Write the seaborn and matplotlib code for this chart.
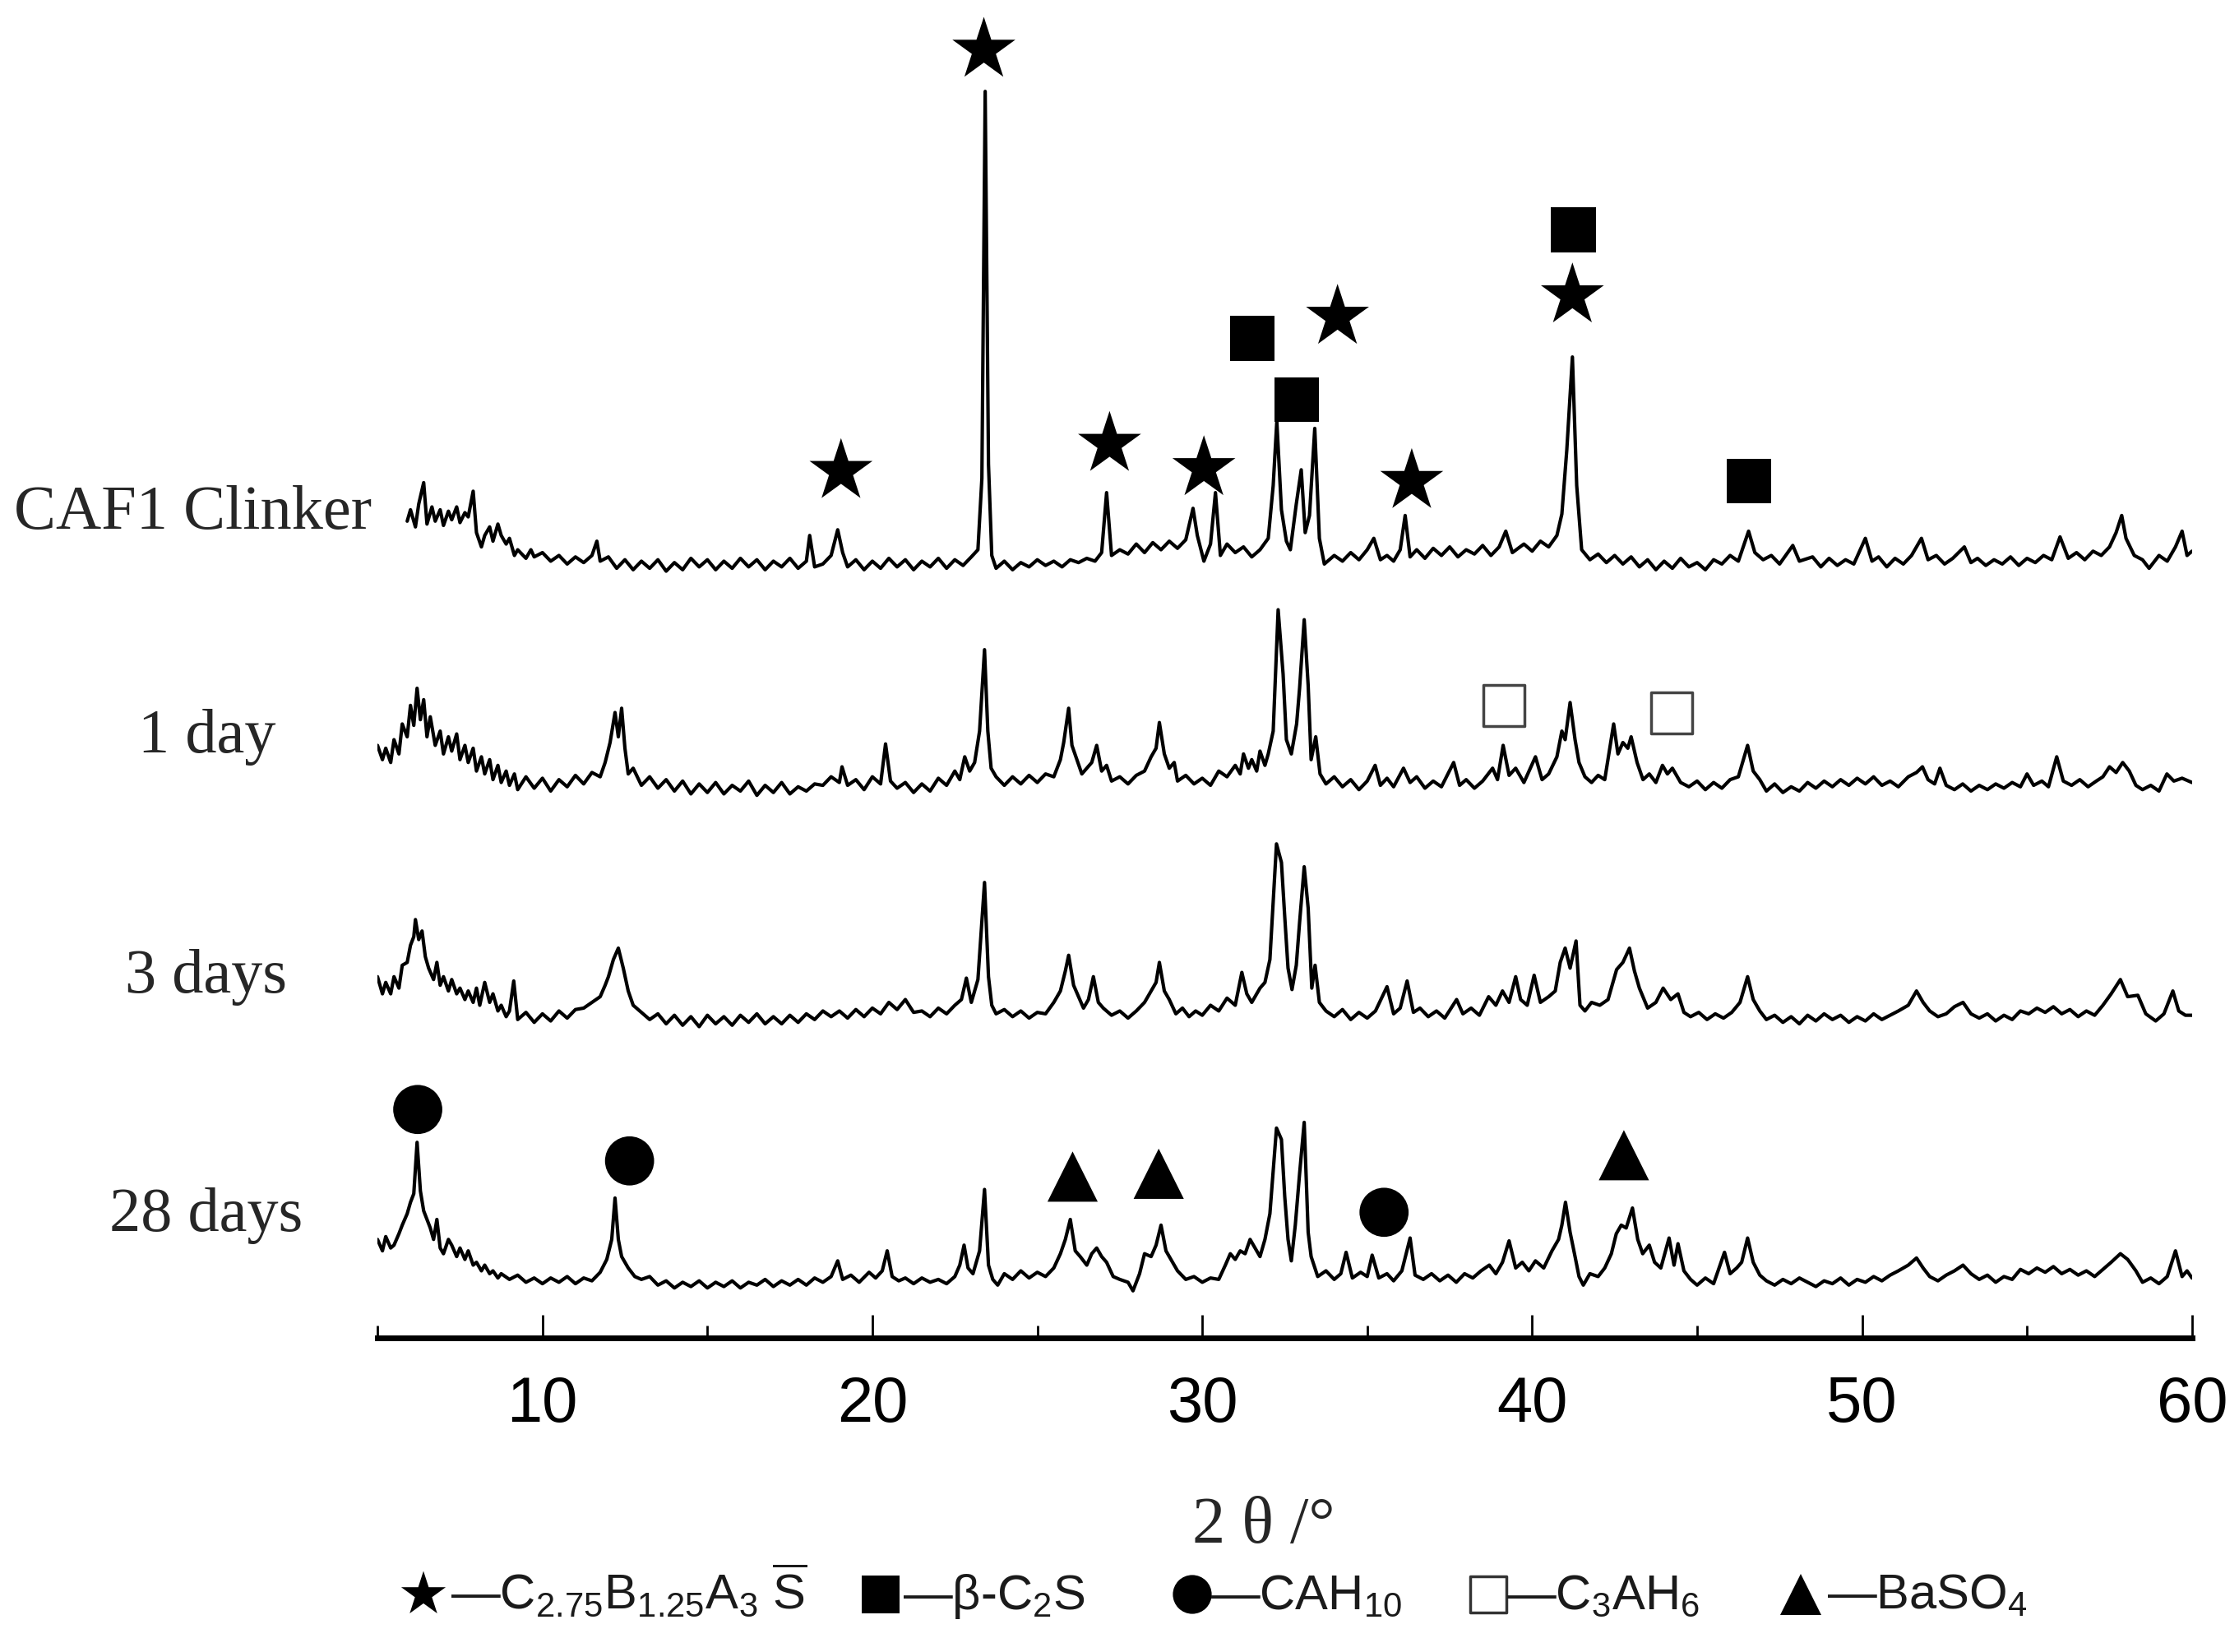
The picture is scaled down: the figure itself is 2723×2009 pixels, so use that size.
import numpy as np
import pandas as pd
import matplotlib
matplotlib.use("Agg")
import matplotlib.pyplot as plt
import seaborn as sns
from matplotlib.ticker import MultipleLocator

# XRD patterns: (2theta, height above the trace's own baseline)
clinker_pts = [
    (5.9, 30), (6.0, 38), (6.15, 26), (6.25, 42), (6.4, 57), (6.5, 28), (6.65, 40), (6.75, 30),
    (6.9, 38), (7.0, 27), (7.15, 37), (7.25, 31), (7.4, 40), (7.5, 29), (7.65, 36), (7.75, 33),
    (7.9, 51), (8.0, 22), (8.15, 12), (8.25, 20), (8.4, 26), (8.5, 16), (8.65, 28), (8.75, 20),
    (8.9, 14), (9.0, 18), (9.15, 6), (9.25, 10), (9.5, 4), (9.65, 10), (9.75, 5), (10.0, 8),
    (10.25, 2), (10.5, 6), (10.75, 0), (11.0, 5), (11.25, 1), (11.5, 6), (11.65, 16), (11.75, 2),
    (12.0, 5), (12.25, -3), (12.5, 3), (12.75, -4), (13.0, 2), (13.25, -3), (13.5, 3), (13.75, -5),
    (14.0, 1), (14.25, -4), (14.5, 4), (14.75, -2), (15.0, 3), (15.25, -4), (15.5, 2), (15.75, -3),
    (16.0, 4), (16.25, -2), (16.5, 3), (16.75, -4), (17.0, 2), (17.25, -2), (17.5, 4), (17.75, -3),
    (18.0, 2), (18.1, 20), (18.25, -2), (18.5, 0), (18.75, 6), (18.95, 24), (19.1, 8), (19.25, -2),
    (19.5, 3), (19.75, -4), (20.0, 2), (20.25, -3), (20.5, 4), (20.75, -2), (21.0, 3), (21.25, -4),
    (21.5, 2), (21.75, -2), (22.0, 4), (22.25, -3), (22.5, 3), (22.75, -1), (23.0, 5), (23.2, 10),
    (23.32, 60), (23.42, 331), (23.52, 70), (23.62, 6), (23.75, -3), (24.0, 2), (24.25, -4), (24.5, 1),
    (24.75, -2), (25.0, 3), (25.25, -1), (25.5, 2), (25.75, -2), (26.0, 3), (26.25, 1), (26.5, 4),
    (26.75, 2), (26.95, 8), (27.1, 50), (27.25, 6), (27.5, 10), (27.75, 7), (28.0, 14), (28.25, 8),
    (28.5, 15), (28.75, 10), (29.0, 16), (29.25, 11), (29.5, 17), (29.72, 39), (29.85, 20), (30.05, 2),
    (30.25, 14), (30.4, 50), (30.55, 6), (30.75, 14), (31.0, 8), (31.25, 12), (31.5, 5), (31.75, 10),
    (32.0, 18), (32.15, 55), (32.26, 100), (32.4, 38), (32.55, 16), (32.67, 10), (32.85, 42), (33.0, 66),
    (33.12, 22), (33.25, 34), (33.41, 95), (33.55, 18), (33.7, 0), (34.0, 6), (34.25, 2), (34.5, 8),
    (34.75, 3), (35.0, 10), (35.2, 18), (35.4, 3), (35.6, 6), (35.8, 2), (36.0, 10), (36.15, 34),
    (36.3, 5), (36.5, 10), (36.75, 4), (37.0, 11), (37.25, 6), (37.5, 12), (37.75, 5), (38.0, 10),
    (38.25, 7), (38.5, 13), (38.75, 6), (39.0, 12), (39.2, 23), (39.4, 8), (39.75, 14), (40.0, 9),
    (40.25, 16), (40.5, 12), (40.75, 20), (40.9, 35), (41.05, 80), (41.22, 145), (41.35, 55), (41.5, 10),
    (41.75, 3), (42.0, 7), (42.25, 1), (42.5, 6), (42.75, 0), (43.0, 5), (43.25, -2), (43.5, 3),
    (43.75, -4), (44.0, 2), (44.25, -3), (44.5, 4), (44.75, -2), (45.0, 1), (45.25, -4), (45.5, 3),
    (45.75, 0), (46.0, 6), (46.25, 2), (46.56, 23), (46.75, 8), (47.0, 3), (47.25, 6), (47.5, 0),
    (47.9, 13), (48.1, 2), (48.5, 5), (48.75, -2), (49.0, 4), (49.25, -1), (49.5, 3), (49.75, 0),
    (50.1, 18), (50.3, 2), (50.5, 5), (50.75, -2), (51.0, 4), (51.25, 0), (51.5, 6), (51.8, 18),
    (52.0, 3), (52.25, 6), (52.5, 0), (52.75, 4), (53.1, 12), (53.3, 1), (53.5, 4), (53.75, -1),
    (54.0, 3), (54.25, 0), (54.5, 5), (54.75, -1), (55.0, 4), (55.25, 1), (55.5, 6), (55.75, 3),
    (56.0, 19), (56.25, 4), (56.5, 8), (56.75, 3), (57.0, 9), (57.25, 6), (57.5, 12), (57.7, 22),
    (57.87, 34), (58.0, 18), (58.25, 6), (58.5, 3), (58.7, -3), (59.0, 6), (59.25, 2), (59.5, 12),
    (59.7, 23), (59.85, 6), (60.0, 9),
]

day1_pts = [
    (5.0, 30), (5.15, 20), (5.25, 28), (5.4, 18), (5.5, 34), (5.65, 24), (5.75, 45), (5.9, 36),
    (6.0, 58), (6.1, 44), (6.2, 70), (6.3, 48), (6.4, 62), (6.5, 36), (6.6, 50), (6.75, 30),
    (6.9, 40), (7.0, 24), (7.15, 36), (7.25, 26), (7.4, 38), (7.5, 20), (7.65, 30), (7.75, 18),
    (7.9, 28), (8.0, 12), (8.15, 22), (8.25, 10), (8.4, 20), (8.5, 6), (8.65, 16), (8.75, 4),
    (8.9, 12), (9.0, 2), (9.15, 10), (9.25, -1), (9.5, 8), (9.75, 0), (10.0, 7), (10.25, -2),
    (10.5, 6), (10.75, 1), (11.0, 9), (11.25, 3), (11.5, 11), (11.75, 8), (11.9, 18), (12.05, 32),
    (12.2, 53), (12.3, 36), (12.4, 56), (12.5, 28), (12.6, 10), (12.75, 14), (13.0, 2), (13.25, 8),
    (13.5, 0), (13.75, 6), (14.0, -2), (14.25, 5), (14.5, -4), (14.75, 3), (15.0, -3), (15.25, 4),
    (15.5, -4), (15.75, 2), (16.0, -2), (16.25, 5), (16.5, -5), (16.75, 2), (17.0, -3), (17.25, 4),
    (17.5, -4), (17.75, 1), (18.0, -2), (18.25, 3), (18.5, 2), (18.75, 8), (19.0, 4), (19.08, 15),
    (19.25, 2), (19.5, 6), (19.75, -1), (20.0, 8), (20.25, 3), (20.4, 31), (20.55, 5), (20.75, 0),
    (21.0, 4), (21.25, -3), (21.5, 3), (21.75, -2), (22.0, 7), (22.25, 2), (22.5, 12), (22.65, 6),
    (22.8, 22), (22.95, 12), (23.1, 18), (23.25, 40), (23.4, 97), (23.5, 40), (23.6, 14), (23.75, 8),
    (24.0, 2), (24.25, 8), (24.5, 3), (24.75, 9), (25.0, 4), (25.25, 10), (25.5, 8), (25.7, 20),
    (25.8, 32), (25.95, 56), (26.05, 30), (26.2, 20), (26.35, 10), (26.5, 14), (26.65, 18), (26.8, 30),
    (26.95, 12), (27.1, 16), (27.25, 5), (27.5, 8), (27.75, 3), (28.0, 9), (28.25, 12), (28.45, 22),
    (28.6, 28), (28.7, 46), (28.85, 24), (29.0, 14), (29.15, 18), (29.25, 5), (29.5, 9), (29.75, 3),
    (30.0, 7), (30.25, 2), (30.5, 12), (30.75, 8), (31.0, 16), (31.15, 10), (31.25, 24), (31.4, 14),
    (31.5, 20), (31.65, 12), (31.75, 26), (31.9, 16), (32.0, 24), (32.15, 40), (32.3, 125), (32.45, 80),
    (32.55, 34), (32.7, 24), (32.86, 45), (32.95, 70), (33.09, 118), (33.21, 72), (33.3, 20), (33.44, 36),
    (33.57, 10), (33.75, 3), (34.0, 8), (34.25, 1), (34.5, 6), (34.75, -1), (35.0, 5), (35.24, 16),
    (35.4, 2), (35.6, 7), (35.8, 1), (36.1, 14), (36.3, 4), (36.5, 8), (36.75, 0), (37.0, 5),
    (37.25, 1), (37.62, 18), (37.8, 2), (38.0, 6), (38.25, 0), (38.5, 5), (38.8, 14), (38.95, 6),
    (39.12, 30), (39.3, 9), (39.5, 14), (39.75, 4), (40.1, 22), (40.3, 6), (40.5, 10), (40.75, 22),
    (40.9, 40), (41.0, 34), (41.15, 60), (41.3, 34), (41.42, 18), (41.6, 8), (41.8, 4), (42.0, 9),
    (42.2, 6), (42.47, 45), (42.6, 24), (42.75, 32), (42.9, 28), (43.0, 36), (43.18, 18), (43.36, 6),
    (43.55, 10), (43.75, 4), (43.95, 16), (44.1, 10), (44.25, 14), (44.5, 4), (44.75, 1), (45.0, 5),
    (45.25, -1), (45.5, 4), (45.75, 0), (46.0, 6), (46.25, 8), (46.53, 30), (46.7, 12), (46.9, 6),
    (47.1, -2), (47.35, 3), (47.6, -3), (47.85, 1), (48.1, -2), (48.35, 4), (48.6, 0), (48.85, 5),
    (49.1, 1), (49.35, 6), (49.6, 2), (49.85, 7), (50.1, 3), (50.35, 8), (50.6, 2), (50.85, 5),
    (51.1, 1), (51.4, 8), (51.65, 11), (51.83, 15), (52.0, 6), (52.2, 3), (52.36, 14), (52.55, 2),
    (52.8, -1), (53.05, 3), (53.3, -2), (53.55, 2), (53.8, -1), (54.05, 3), (54.3, 0), (54.55, 4),
    (54.8, 1), (55.0, 10), (55.2, 2), (55.45, 5), (55.65, 1), (55.9, 22), (56.1, 5), (56.35, 2),
    (56.6, 6), (56.85, 1), (57.1, 5), (57.3, 8), (57.5, 15), (57.7, 11), (57.9, 18), (58.1, 12),
    (58.3, 2), (58.5, -1), (58.75, 2), (59.0, -2), (59.24, 10), (59.45, 5), (59.7, 7), (60.0, 4),
]

day3_pts = [
    (5.0, 30), (5.15, 18), (5.25, 26), (5.4, 18), (5.5, 30), (5.65, 22), (5.75, 38), (5.9, 40),
    (6.0, 52), (6.1, 58), (6.15, 70), (6.25, 56), (6.35, 62), (6.45, 44), (6.55, 36), (6.7, 28),
    (6.8, 40), (6.9, 24), (7.0, 30), (7.15, 20), (7.25, 28), (7.4, 18), (7.5, 22), (7.65, 14),
    (7.75, 20), (7.9, 12), (8.0, 22), (8.1, 10), (8.25, 26), (8.4, 12), (8.5, 18), (8.65, 6),
    (8.75, 10), (8.9, 2), (9.0, 6), (9.13, 27), (9.25, 0), (9.5, 5), (9.75, -2), (10.0, 4),
    (10.25, -1), (10.5, 6), (10.75, 1), (11.0, 7), (11.25, 8), (11.5, 12), (11.75, 16), (11.9, 24),
    (12.0, 30), (12.15, 42), (12.3, 50), (12.45, 36), (12.6, 20), (12.75, 10), (13.0, 5), (13.25, 0),
    (13.5, 4), (13.75, -3), (14.0, 3), (14.25, -4), (14.5, 2), (14.75, -5), (15.0, 3), (15.25, -3),
    (15.5, 2), (15.75, -4), (16.0, 3), (16.25, -2), (16.5, 4), (16.75, -3), (17.0, 2), (17.25, -3),
    (17.5, 3), (17.75, -2), (18.0, 4), (18.25, 0), (18.5, 6), (18.75, 2), (19.0, 6), (19.25, 1),
    (19.5, 7), (19.75, 2), (20.0, 8), (20.25, 4), (20.5, 12), (20.75, 7), (21.0, 14), (21.25, 5),
    (21.5, 6), (21.75, 2), (22.0, 8), (22.25, 4), (22.5, 10), (22.7, 14), (22.85, 29), (23.0, 12),
    (23.2, 28), (23.4, 96), (23.52, 30), (23.62, 10), (23.75, 4), (24.0, 7), (24.25, 2), (24.5, 6),
    (24.75, 1), (25.0, 5), (25.25, 4), (25.5, 12), (25.7, 20), (25.85, 34), (25.95, 45), (26.1, 24),
    (26.25, 16), (26.4, 8), (26.55, 14), (26.7, 30), (26.85, 12), (27.0, 8), (27.25, 3), (27.5, 6),
    (27.75, 1), (28.0, 6), (28.25, 12), (28.45, 20), (28.6, 26), (28.7, 40), (28.85, 20), (29.0, 14),
    (29.2, 4), (29.4, 8), (29.6, 2), (29.8, 6), (30.0, 3), (30.25, 10), (30.5, 6), (30.75, 15),
    (31.0, 10), (31.2, 33), (31.35, 18), (31.5, 12), (31.75, 22), (31.9, 26), (32.05, 42), (32.25, 123),
    (32.4, 110), (32.5, 72), (32.6, 36), (32.72, 21), (32.85, 38), (32.95, 68), (33.09, 107), (33.21, 78),
    (33.32, 22), (33.42, 38), (33.55, 12), (33.75, 6), (34.0, 2), (34.25, 7), (34.5, 0), (34.75, 5),
    (35.0, 1), (35.25, 6), (35.6, 23), (35.8, 4), (36.0, 8), (36.21, 27), (36.4, 5), (36.6, 8),
    (36.85, 2), (37.1, 6), (37.35, 1), (37.71, 14), (37.9, 4), (38.15, 8), (38.4, 3), (38.68, 16),
    (38.9, 10), (39.1, 20), (39.3, 12), (39.5, 30), (39.65, 14), (39.85, 10), (40.06, 31), (40.25, 12),
    (40.5, 16), (40.7, 20), (40.85, 40), (41.0, 50), (41.15, 36), (41.33, 55), (41.45, 10), (41.6, 6),
    (41.8, 12), (42.05, 10), (42.3, 14), (42.56, 35), (42.75, 40), (42.95, 50), (43.1, 34), (43.25, 22),
    (43.5, 8), (43.75, 12), (43.97, 22), (44.2, 14), (44.42, 18), (44.6, 5), (44.8, 2), (45.05, 5),
    (45.3, 0), (45.55, 4), (45.8, 1), (46.05, 5), (46.3, 12), (46.53, 30), (46.7, 14), (46.9, 6),
    (47.1, 0), (47.35, 3), (47.6, -2), (47.85, 2), (48.1, -3), (48.35, 3), (48.6, -1), (48.85, 4),
    (49.1, 0), (49.35, 3), (49.6, -2), (49.85, 2), (50.1, -1), (50.35, 4), (50.6, 0), (50.85, 3),
    (51.1, 6), (51.4, 10), (51.65, 20), (51.85, 12), (52.05, 6), (52.3, 2), (52.55, 4), (52.8, 9),
    (53.06, 12), (53.3, 4), (53.55, 1), (53.8, 4), (54.05, -1), (54.3, 3), (54.55, 0), (54.8, 6),
    (55.05, 4), (55.3, 8), (55.55, 5), (55.8, 9), (56.05, 4), (56.3, 7), (56.55, 2), (56.8, 6),
    (57.05, 3), (57.3, 10), (57.55, 18), (57.83, 28), (58.05, 16), (58.36, 17), (58.6, 4), (58.9, -1),
    (59.15, 4), (59.42, 20), (59.6, 6), (59.8, 3), (60.0, 3),
]

day28_pts = [
    (5.0, 30), (5.15, 22), (5.25, 32), (5.4, 24), (5.5, 26), (5.65, 34), (5.75, 40), (5.9, 48),
    (6.0, 56), (6.1, 62), (6.2, 98), (6.3, 64), (6.4, 50), (6.5, 44), (6.6, 38), (6.7, 30),
    (6.8, 44), (6.9, 24), (7.0, 20), (7.15, 30), (7.25, 26), (7.4, 18), (7.5, 24), (7.65, 16),
    (7.75, 22), (7.9, 12), (8.0, 14), (8.15, 8), (8.25, 12), (8.4, 6), (8.5, 8), (8.65, 3),
    (8.75, 6), (9.0, 2), (9.25, 5), (9.5, 0), (9.75, 3), (10.0, -1), (10.25, 3), (10.5, 0),
    (10.75, 4), (11.0, -1), (11.25, 3), (11.5, 1), (11.75, 7), (11.95, 16), (12.1, 30), (12.2, 59),
    (12.3, 30), (12.4, 18), (12.6, 10), (12.8, 4), (13.0, 2), (13.25, 4), (13.5, -2), (13.75, 1),
    (14.0, -4), (14.25, 0), (14.5, -3), (14.75, 1), (15.0, -4), (15.25, 0), (15.5, -3), (15.75, 1),
    (16.0, -4), (16.25, 0), (16.5, -2), (16.75, 2), (17.0, -3), (17.25, 1), (17.5, -2), (17.75, 2),
    (18.0, -2), (18.25, 3), (18.5, 0), (18.75, 4), (18.95, 15), (19.1, 2), (19.35, 5), (19.6, 0),
    (19.9, 7), (20.1, 3), (20.3, 8), (20.45, 22), (20.6, 4), (20.8, 1), (21.0, 3), (21.25, -1),
    (21.5, 3), (21.75, 0), (22.0, 2), (22.25, -1), (22.5, 4), (22.65, 12), (22.78, 26), (22.9, 10),
    (23.05, 6), (23.25, 22), (23.4, 65), (23.52, 12), (23.65, 2), (23.8, -2), (24.0, 6), (24.25, 2),
    (24.5, 8), (24.75, 3), (25.0, 7), (25.25, 4), (25.5, 10), (25.7, 20), (25.85, 30), (26.0, 44),
    (26.15, 22), (26.3, 18), (26.5, 12), (26.65, 20), (26.8, 24), (26.95, 18), (27.1, 14), (27.3, 4),
    (27.5, 2), (27.75, 0), (27.9, -6), (28.1, 6), (28.25, 20), (28.45, 18), (28.6, 26), (28.75, 40),
    (28.9, 22), (29.05, 16), (29.25, 8), (29.5, 2), (29.75, 4), (30.0, 0), (30.25, 3), (30.5, 2),
    (30.7, 12), (30.85, 20), (31.0, 16), (31.15, 22), (31.3, 20), (31.45, 30), (31.6, 24), (31.75, 18),
    (31.9, 30), (32.05, 48), (32.25, 108), (32.4, 100), (32.5, 60), (32.6, 30), (32.7, 15), (32.82, 40),
    (32.95, 76), (33.09, 112), (33.21, 35), (33.3, 18), (33.5, 4), (33.75, 8), (34.0, 2), (34.2, 6),
    (34.36, 21), (34.55, 3), (34.8, 7), (35.0, 4), (35.15, 19), (35.35, 3), (35.6, 6), (35.8, 1),
    (36.05, 8), (36.3, 31), (36.45, 5), (36.7, 2), (36.95, 6), (37.2, 1), (37.45, 5), (37.7, 0),
    (37.95, 6), (38.2, 3), (38.45, 8), (38.7, 12), (38.9, 6), (39.1, 14), (39.3, 29), (39.5, 10),
    (39.7, 14), (39.9, 8), (40.1, 15), (40.35, 10), (40.6, 22), (40.8, 30), (40.9, 40), (41.01, 56),
    (41.15, 35), (41.3, 18), (41.42, 4), (41.55, -2), (41.75, 6), (42.0, 4), (42.2, 10), (42.4, 20),
    (42.55, 34), (42.7, 40), (42.85, 38), (43.04, 52), (43.2, 30), (43.35, 20), (43.55, 26), (43.71, 14),
    (43.9, 10), (44.15, 31), (44.3, 12), (44.42, 27), (44.6, 8), (44.8, 2), (45.0, -2), (45.25, 3),
    (45.5, -1), (45.83, 21), (46.0, 6), (46.2, 10), (46.35, 14), (46.53, 31), (46.7, 14), (46.9, 5),
    (47.1, 1), (47.35, -2), (47.6, 2), (47.85, -1), (48.1, 3), (48.35, 0), (48.6, -3), (48.85, 1),
    (49.1, -1), (49.35, 3), (49.6, -2), (49.85, 2), (50.1, 0), (50.35, 4), (50.6, 1), (50.85, 5),
    (51.1, 8), (51.4, 12), (51.65, 17), (51.85, 10), (52.05, 4), (52.3, 1), (52.55, 5), (52.8, 8),
    (53.06, 12), (53.3, 6), (53.55, 2), (53.8, 5), (54.05, 0), (54.3, 4), (54.55, 2), (54.8, 9),
    (55.05, 6), (55.3, 10), (55.55, 7), (55.8, 11), (56.05, 6), (56.3, 9), (56.55, 5), (56.8, 8),
    (57.05, 4), (57.3, 9), (57.55, 14), (57.83, 20), (58.05, 16), (58.3, 8), (58.5, 0), (58.75, 3),
    (59.0, -1), (59.25, 4), (59.5, 22), (59.7, 4), (59.85, 8), (60.0, 3),
]

sample_names = ["CAF1 Clinker", "1 day", "3 days", "28 days"]
sample_offsets = [542, 385, 223, 39]

# phase markers (2theta, stacked height)
star_pos = [(23.38, 902), (19.05, 607), (27.19, 626), (30.05, 609), (34.1, 715), (36.35, 600), (41.22, 730)]
square_pos = [(31.51, 700), (32.86, 657), (41.25, 776), (46.57, 600)]
open_square_pos = [(39.15, 443), (44.22, 438)]
circle_pos = [(6.22, 160), (12.64, 124), (35.51, 88)]
triangle_pos = [(26.07, 113), (28.68, 115), (42.78, 128)]

legend_items = [
    ("*", "black", r"—C$_{2.75}$B$_{1.25}$A$_{3}$ $\overline{\mathrm{S}}$"),
    ("s", "black", r"—β-C$_{2}$S"),
    ("o", "black", r"—CAH$_{10}$"),
    ("s", "white", r"—C$_{3}$AH$_{6}$"),
    ("^", "black", r"—BaSO$_{4}$"),
]

sns.set_theme(style="white")
plt.rcParams["font.family"] = ["Liberation Sans", "DejaVu Sans"]
plt.rcParams["mathtext.fontset"] = "custom"
plt.rcParams["mathtext.rm"] = "Liberation Sans"
plt.rcParams["mathtext.it"] = "Liberation Sans:italic"
plt.rcParams["mathtext.bf"] = "Liberation Sans:bold"
plt.rcParams["mathtext.default"] = "regular"

frames = []
for name, pts, off in zip(sample_names, [clinker_pts, day1_pts, day3_pts, day28_pts], sample_offsets):
    arr = np.array(pts, dtype=float)
    frames.append(pd.DataFrame({"two_theta": arr[:, 0], "intensity": arr[:, 1] + off, "sample": name}))
df = pd.concat(frames, ignore_index=True)

fig = plt.figure(figsize=(27.23, 20.09), dpi=100)
ax = fig.add_axes([0.1686, 0.1901, 0.8104, 0.8099])

sns.lineplot(data=df, x="two_theta", y="intensity", units="sample", estimator=None,
             color="black", lw=3.0, legend=False, ax=ax)


def put_markers(pos, marker, size, face="black", edge="none", lw=0):
    p = np.array(pos, dtype=float)
    sns.scatterplot(x=p[:, 0], y=p[:, 1], marker=marker, s=size ** 2, color=face,
                    edgecolor=edge, linewidth=lw, zorder=5, ax=ax, legend=False)


put_markers(star_pos, "*", 58)
put_markers(square_pos, "s", 39)
put_markers(open_square_pos, "s", 36, face="white", edge="#444444", lw=2.5)
put_markers(circle_pos, "o", 43)
put_markers(triangle_pos, "^", 44)

ax.set_xlim(5, 60)
ax.set_ylim(0, 937)
ax.set_yticks([])
ax.set_xlabel("")
ax.set_ylabel("")
for side in ["left", "right", "top"]:
    ax.spines[side].set_visible(False)
ax.spines["bottom"].set_linewidth(5)
ax.spines["bottom"].set_color("black")
ax.xaxis.set_major_locator(MultipleLocator(10))
ax.xaxis.set_minor_locator(MultipleLocator(5))
ax.tick_params(axis="x", which="major", direction="in", length=20, width=2, color="black",
               pad=32, labelsize=56, labelcolor="black", bottom=True)
ax.tick_params(axis="x", which="minor", direction="in", length=11, width=2, color="black", bottom=True)
ax.patch.set_alpha(0)

# sample names on the left
label_xy = [(0.086, 0.680), (0.0925, 0.5445), (0.092, 0.399), (0.092, 0.2549)]
for name, (lx, ly) in zip(sample_names, label_xy):
    fig.text(lx, ly, name, ha="center", va="baseline", fontsize=55,
             family=["Liberation Serif", "DejaVu Serif"])

fig.text(0.5645, 0.0662, "2 θ /°", ha="center", va="baseline", fontsize=58,
         family=["Liberation Serif", "DejaVu Serif"])

# legend row at the bottom
lax = fig.add_axes([0, 0, 1, 0.1])
lax.set_xlim(0, 2723)
lax.set_ylim(0, 200.9)
lax.axis("off")
sym_x = [515, 1071, 1450, 1810, 2190]
txt_x = [548, 1098, 1472, 1832, 2222]
sym_size = [41, 33, 34, 31, 36]
for (mk, face, txt), sx, tx, ms in zip(legend_items, sym_x, txt_x, sym_size):
    edge = "#333333" if face == "white" else "none"
    lax.scatter([sx], [70], marker=mk, s=ms ** 2, color=face, edgecolors=edge,
                linewidths=2.5 if face == "white" else 0)
    lax.text(tx, 52, txt, ha="left", va="baseline", fontsize=43, color="#1a1a1a")

fig.savefig("out.png", dpi=100)
